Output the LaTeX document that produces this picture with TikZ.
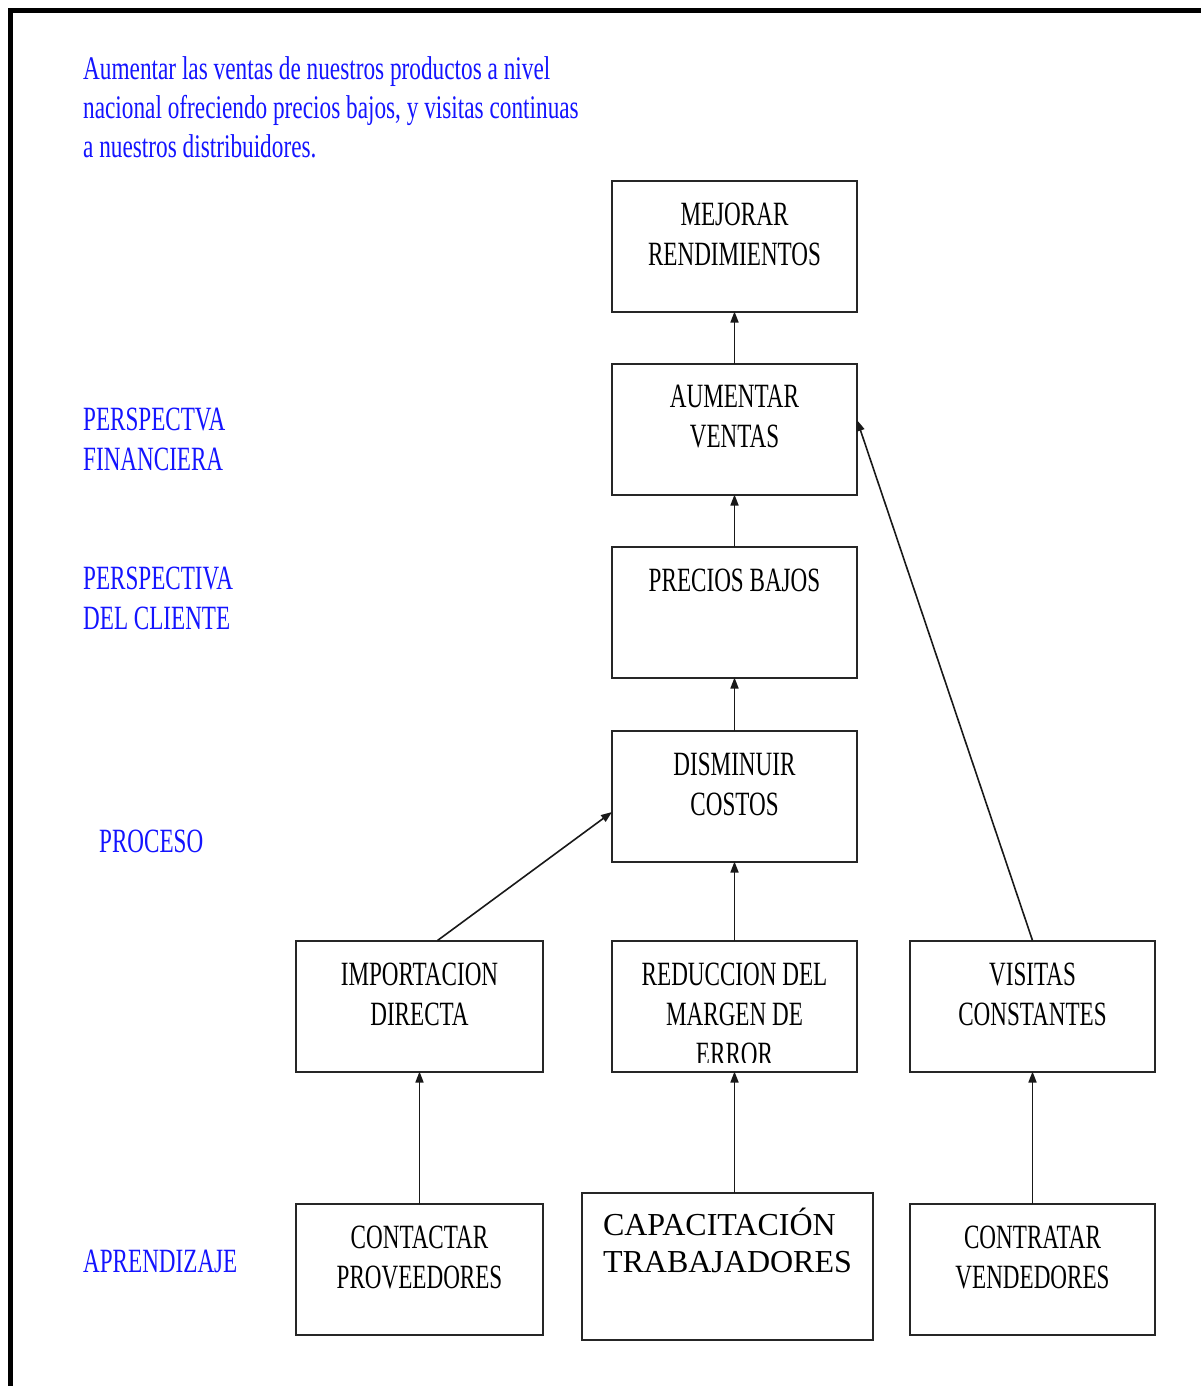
\documentclass[tikz,border=0pt]{standalone}
\usepackage{fontspec}
\setmainfont{Liberation Serif}
\newfontfamily\condfont[FakeStretch=0.68]{Liberation Serif}
\newfontfamily\goalfont[FakeStretch=0.705]{Liberation Serif}
\usetikzlibrary{arrows.meta}
\definecolor{txtblue}{RGB}{20,20,255}
\newcommand\boxtext[1]{\parbox[c][131pt][t]{245pt}{\centering\condfont\fontsize{34}{40}\selectfont\vspace*{22pt}#1}}
\begin{document}
\begin{tikzpicture}[x=1pt,y=-1pt,
  box/.style={draw=black!85,line width=2pt,minimum width=245pt,minimum height=131pt,inner sep=0pt,outer sep=0pt},
  arr/.style={line width=1.6pt,black!90,-{Triangle[length=11pt,width=8pt]}},
  bluetxt/.style={inner sep=0pt,text=txtblue,align=left,font=\condfont\fontsize{34}{40}\selectfont}]
\useasboundingbox (0,0) rectangle (1201,1386);
\fill[white] (0,0) rectangle (1201,1386);
\draw[line width=4.5pt] (10.5,1386) -- (10.5,10.5) -- (1201,10.5);

% blue texts
\node[bluetxt,anchor=north west,font=\goalfont\fontsize{33}{39}\selectfont] (goal) at (83,56)
  {Aumentar las ventas de nuestros productos a nivel\\nacional ofreciendo precios bajos, y visitas continuas\\a nuestros distribuidores.};
\node[bluetxt,anchor=north west] (fin) at (83,408) {PERSPECTVA\\FINANCIERA};
\node[bluetxt,anchor=north west] (cli) at (83,567) {PERSPECTIVA\\DEL CLIENTE};
\node[bluetxt,anchor=north west] (pro) at (99,830) {PROCESO};
\node[bluetxt,anchor=north west] (apr) at (83,1250) {APRENDIZAJE};

% boxes
\node[box] (mej) at (734.5,246) {\boxtext{MEJORAR\\RENDIMIENTOS}};
\node[box] (aum) at (734.5,429) {\boxtext{AUMENTAR\\VENTAS}};
\node[box] (pre) at (734.5,612) {\boxtext{PRECIOS BAJOS}};
\node[box] (dis) at (734.5,796) {\boxtext{DISMINUIR\\COSTOS}};
\node[box,minimum width=247pt] (imp) at (419.5,1006) {\boxtext{IMPORTACION\\DIRECTA}};
\node[box] (red) at (734.5,1006) {};
\begin{scope}
  \clip (red.north west) rectangle ([yshift=9pt]red.south east);
  \node[inner sep=0pt] (redtxt) at (red.center) {\boxtext{REDUCCION DEL\\MARGEN DE\\ERROR}};
\end{scope}
\node[box] (vis) at (1032.5,1006) {\boxtext{VISITAS\\CONSTANTES}};
\node[box,minimum width=247pt] (con) at (419.5,1269) {\boxtext{CONTACTAR\\PROVEEDORES}};
\node[box,minimum width=291pt,minimum height=147pt] (cap) at (727.5,1266.5)
  {\parbox[c][147pt][t]{291pt}{\raggedright\leftskip=21pt\fontsize{32}{37}\selectfont\vspace*{42pt}\smash{CAPACITACIÓN}\\TRABAJADORES}};
\node[box] (ctr) at (1032.5,1269) {\boxtext{CONTRATAR\\VENDEDORES}};

% connectors
\draw[arr] (aum.north) -- (mej.south);
\draw[arr] (pre.north) -- (aum.south);
\draw[arr] (dis.north) -- (pre.south);
\draw[arr] (red.north) -- (dis.south);
\draw[arr] ([xshift=18pt]imp.north) -- ([yshift=-16pt]dis.west);
\draw[arr] (vis.north) -- ([yshift=9pt]aum.east);
\draw[arr] (con.north) -- (imp.south);
\draw[arr] (red.south |- cap.north) -- (red.south);
\draw[arr] (ctr.north) -- (vis.south);
\end{tikzpicture}
\end{document}
